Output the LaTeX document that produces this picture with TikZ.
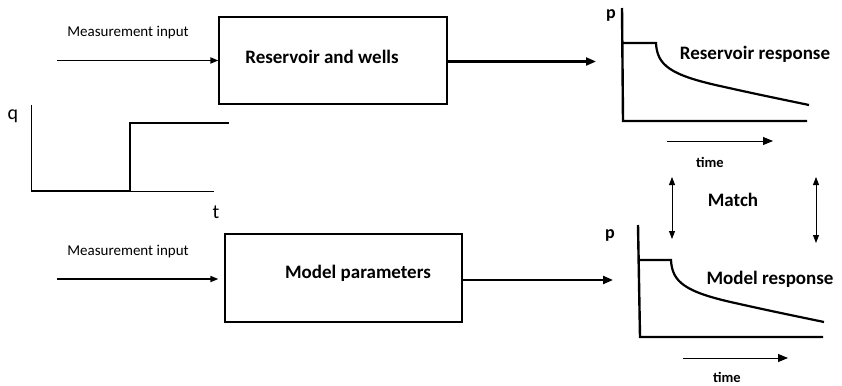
\documentclass[tikz,border=0pt]{standalone}
\usepackage{fontspec}
\setmainfont{Carlito}
\usetikzlibrary{arrows.meta, positioning}

\begin{document}
\begin{tikzpicture}[x=1pt, y=-1pt, >=Triangle,
  block/.style={draw, line width=1.2pt, inner sep=0pt},
  boxlabel/.style={font=\fontsize{19}{21}\selectfont\bfseries},
  inlabel/.style={font=\fontsize{15}{17}\selectfont},
  plotlabel/.style={font=\fontsize{18}{20}\selectfont\bfseries},
  timelabel/.style={font=\fontsize{14.5}{16}\selectfont\bfseries, inner sep=1pt},
  feed/.style={line width=1.6pt, -{Triangle[length=8pt,width=6pt]}},
  outarrow/.style={line width=2.2pt, -{Triangle[length=10pt,width=8pt]}},
  thinarrow/.style={line width=0.9pt, -{Triangle[length=10pt,width=8pt]}},
  matcharrow/.style={line width=0.9pt, {Triangle[length=8pt,width=6pt]}-{Triangle[length=8pt,width=6pt]}},
  axis/.style={line width=2.4pt, line join=miter},
  curve/.style={line width=2.2pt},
  qaxis/.style={line width=1pt},
  qstep/.style={line width=2.4pt}]
  \useasboundingbox (0,0) rectangle (842,385);

  % blocks
  \node[block, minimum width=228pt, minimum height=87pt] (res) at (333,60.5) {};
  \node[boxlabel] (reslabel) at (322,57) {Reservoir and wells};
  \node[block, minimum width=237pt, minimum height=88pt] (mod) at (343.5,278) {};
  \node[boxlabel] (modlabel) at (358,273) {Model parameters};

  % inputs
  \coordinate (resin) at (57,60.5);
  \coordinate (modin) at (57,279);
  \node[inlabel] (resinlabel) at (128,33) {Measurement input};
  \node[inlabel] (modinlabel) at (128,252) {Measurement input};
  \draw[feed] (resin) -- (res.west);
  \draw[feed, shorten >=6pt] (modin) -- (modin -| mod.west);

  % outputs
  \coordinate (resout) at (596,61.5);
  \coordinate (modout) at (613,280);
  \draw[outarrow] (res.east |- resout) -- (resout);
  \draw[outarrow] (mod.east |- modout) -- (modout);

  % rate step
  \node[font=\fontsize{20}{22}\selectfont] (qlabel) at (13,116) {q};
  \node[font=\fontsize{20}{22}\selectfont] (tlabel) at (216,212) {t};
  \draw[qaxis] (31,105) -- (31,191) -- (214,191);
  \draw[qstep] (31,191) -- (130,191) -- (130,123) -- (229,123);

  % reservoir response
  \draw[axis] (622,8) -- (623,121) -- (807,121);
  \draw[curve] (623,43) -- (656,43) .. controls (657,65) and (670,75) .. (720,86)
    .. controls (760,95) and (790,101) .. (809,105);
  \node[plotlabel] (ptop) at (611,15) {p};
  \node[boxlabel] (resresp) at (755,54) {Reservoir response};
  \coordinate (ttopa) at (667,141);
  \coordinate (ttopb) at (773,141);
  \draw[thinarrow] (ttopa) -- (ttopb);
  \node[timelabel] (ttop) at (710,162) {time};

  % match
  \node[boxlabel] (match) at (733,200) {Match};
  \coordinate (ma) at (672,177);
  \coordinate (mb) at (672,239);
  \coordinate (mc) at (816,177);
  \coordinate (md) at (816,243);
  \draw[matcharrow] (ma) -- (mb);
  \draw[matcharrow] (mc) -- (md);

  % model response
  \draw[axis] (638,225) -- (640,337) -- (823,337);
  \draw[curve] (640,260) -- (671,260) .. controls (672,282) and (685,292) .. (735,303)
    .. controls (775,312) and (805,318) .. (824,322);
  \node[plotlabel] (pbot) at (610,235) {p};
  \node[boxlabel] (modresp) at (770,279) {Model response};
  \coordinate (tbota) at (683,358);
  \coordinate (tbotb) at (788,358);
  \draw[thinarrow] (tbota) -- (tbotb);
  \node[timelabel] (tbot) at (727,377) {time};
\end{tikzpicture}
\end{document}
